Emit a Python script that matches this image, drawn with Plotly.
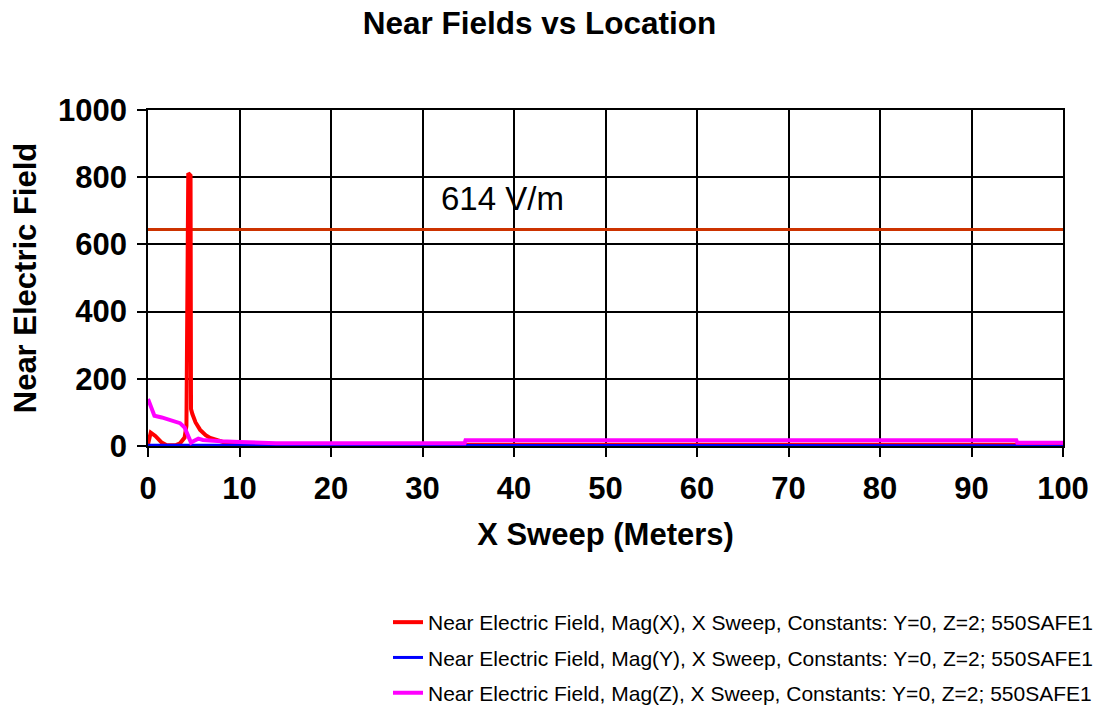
import plotly.graph_objects as go

# ---- data ----
x_mag_x = [0, 0.3, 0.8, 1.5, 2.0, 3.0, 3.5, 4.0, 4.2, 4.3, 4.4, 4.65, 4.7, 4.85, 5.2, 5.7, 6.3, 6.8, 7.5, 8.2, 9, 10, 12, 14, 20, 30, 40, 50, 60, 70, 80, 90, 100]
y_mag_x = [5, 40, 30, 10, 3, 2, 8, 25, 60, 805, 812, 805, 110, 95, 70, 48, 32, 24, 17, 12, 10, 9, 7, 5, 4, 4, 4, 4, 4, 4, 4, 4, 4]

x_mag_y = [0, 1.5, 2.0, 3.0, 8, 10, 20, 50, 100]
y_mag_y = [2, 2, 1, 2, 2, 1, 1, 1, 1]

x_mag_z = [0, 0.3, 0.7, 1.5, 2.5, 3.5, 4.0, 4.4, 4.7, 5.0, 5.5, 6.0, 7, 8, 10, 12, 14, 20, 30, 34.6, 34.7, 50, 70, 94.9, 95.0, 100]
y_mag_z = [140, 115, 90, 85, 78, 68, 55, 30, 10, 15, 22, 18, 15, 14, 12, 10, 8, 8, 8, 8, 17, 17, 17, 17, 10, 10]

ref_x = [0, 100]
ref_level = 644
ref_label = "614 V/m"
ref_label_x = 38.7
ref_label_y = 738

series_names = [
    "Near Electric Field, Mag(X), X Sweep, Constants: Y=0, Z=2; 550SAFE1",
    "Near Electric Field, Mag(Y), X Sweep, Constants: Y=0, Z=2; 550SAFE1",
    "Near Electric Field, Mag(Z), X Sweep, Constants: Y=0, Z=2; 550SAFE1",
]

x_ticks = list(range(0, 101, 10))
y_ticks = list(range(0, 1001, 200))

FONT = "Liberation Sans, Arial, sans-serif"

fig = go.Figure()
fig.add_trace(go.Scatter(x=ref_x, y=[ref_level] * len(ref_x), mode="lines",
                         line=dict(color="#cc3300", width=3), showlegend=False, hoverinfo="skip"))
fig.add_trace(go.Scatter(x=x_mag_x, y=y_mag_x, mode="lines", name=series_names[0], legendgroup="a",
                         line=dict(color="#ff0000", width=4)))
fig.add_trace(go.Scatter(x=x_mag_y, y=y_mag_y, mode="lines", name=series_names[1], legendgroup="b",
                         line=dict(color="#0000ff", width=3)))
fig.add_trace(go.Scatter(x=x_mag_z, y=y_mag_z, mode="lines", name=series_names[2], legendgroup="c",
                         line=dict(color="#ff00ff", width=4)))

fig.add_annotation(x=ref_label_x, y=ref_label_y, text=ref_label, showarrow=False,
                   font=dict(family="Liberation Sans Narrow, Arial Narrow, " + FONT, size=33, color="black"))

axis_common = dict(showgrid=True, gridcolor="black", gridwidth=1.5, showline=True, linecolor="black",
                   linewidth=1.5, mirror=True, ticks="outside", ticklen=9, tickcolor="black", tickwidth=1.5,
                   zeroline=False, tickfont=dict(family=FONT, size=31, color="black", weight="bold"))

fig.update_xaxes(range=[0, 100], tickvals=x_ticks, tickangle=0, ticklabelstandoff=5,
                 title=dict(text="<b>X Sweep (Meters)</b>", font=dict(family=FONT, size=31, color="black"), standoff=18),
                 **axis_common)
fig.update_yaxes(range=[0, 1000], tickvals=y_ticks, ticklabelstandoff=4,
                 title=dict(text="<b>Near Electric Field</b>", font=dict(family=FONT, size=31, color="black"), standoff=12),
                 **axis_common)

fig.update_layout(
    width=1098, height=707,
    paper_bgcolor="white", plot_bgcolor="white",
    margin=dict(l=148, r=35, t=110, b=261, autoexpand=False),
    title=dict(text="<b>Near Fields vs Location</b>", x=539.5 / 1098, xref="container", xanchor="center",
               y=1 - 23 / 707, yref="container", yanchor="middle",
               font=dict(family=FONT, size=31.5, color="black")),
    legend=dict(xref="container", yref="container", x=1.0, xanchor="right", y=1 - 602 / 707, yanchor="top",
                traceorder="grouped", tracegroupgap=5, font=dict(family=FONT, size=21, color="black"),
                bgcolor="rgba(0,0,0,0)", itemwidth=30),
    showlegend=True,
)

fig.write_html("out.html", config={"displayModeBar": False},
               post_script="document.body.style.margin='0';document.body.style.overflow='hidden';")
